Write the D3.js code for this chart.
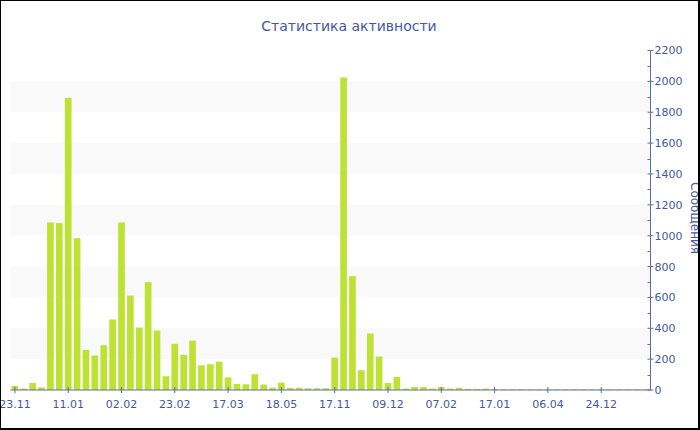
<!DOCTYPE html>
<html>
<head>
<meta charset="utf-8">
<script src="https://cdnjs.cloudflare.com/ajax/libs/d3/7.8.5/d3.min.js"></script>
<style>
    body { margin: 0; background: #fff; }
    svg { display: block; font-family: "DejaVu Sans", Verdana, sans-serif; }
</style>
</head>
<body>
<svg id="chart" width="700" height="430"></svg>
<script>

var title = "Статистика активности";
var yTitle = "Сообщения";

/**
 * one label every 6 bars (the source only prints those)
 */
var tickLabels = ["23.11", "11.01", "02.02", "23.02", "17.03", "18.05",
    "17.11", "09.12", "07.02", "17.01", "06.04", "24.12"];

var messages = [26, 9, 45, 17, 1086, 1082, 1893, 984, 260, 223, 290, 457,
    1086, 612, 405, 699, 385, 89, 299, 227, 320, 160, 167, 184,
    82, 39, 37, 102, 35, 15, 48, 13, 15, 11, 11, 11,
    210, 2025, 738, 128, 366, 217, 45, 85, 9, 20, 20, 9,
    20, 9, 15, 7, 7, 9, 7, 5, 5, 5, 5, 5,
    5, 5, 5, 5, 5, 5, 5, 5, 5, 5, 5, 5];

var yTicks = [0, 200, 400, 600, 800, 1000, 1200, 1400, 1600, 1800, 2000, 2200];

var WIDTH = 700, HEIGHT = 430;
var MARGINS = { left: 10.5, right: 50, top: 50.5, bottom: 40 };
var TEXT = "#4657a2", AXIS = "#5c6bab", BAR = "#bde233";

var vis = d3.select("#chart");

var xRange = d3.scaleBand()
    .domain(d3.range(messages.length))
    .range([MARGINS.left, WIDTH - MARGINS.right])
    .paddingInner(0.25)
    .paddingOuter(0.12);

var yRange = d3.scaleLinear()
    .domain([0, 2200])
    .range([HEIGHT - MARGINS.bottom, MARGINS.top]);

var x0 = MARGINS.left, x1 = WIDTH - MARGINS.right + 0.5;

/**
 * alternating grey bands behind the bars
 */
vis.append("g").selectAll("rect")
    .data(yTicks.filter(function (d, i) { return i % 2 == 1 && d < 2200; }))
    .enter().append("rect")
    .attr("x", x0)
    .attr("width", x1 - x0)
    .attr("y", function (d) { return yRange(d + 200); })
    .attr("height", function (d) { return yRange(d) - yRange(d + 200); })
    .attr("fill", "#f9f9f9");

vis.append("g").selectAll("rect")
    .data(messages)
    .enter().append("rect")
    .attr("x", function (d, i) { return xRange(i); })
    .attr("width", xRange.bandwidth())
    .attr("y", function (d) { return yRange(d); })
    .attr("height", function (d) { return yRange(0) - yRange(d); })
    .attr("fill", BAR);

/**
 * x axis: line plus ticks crossing it, label on every 6th bar
 */
var xAxis = vis.append("g");
var yBase = yRange(0);
xAxis.append("line")
    .attr("x1", x0).attr("x2", x1)
    .attr("y1", yBase).attr("y2", yBase)
    .attr("stroke", AXIS);

var xt = xAxis.selectAll(".xtick")
    .data(tickLabels)
    .enter().append("g")
    .attr("class", "xtick")
    .attr("transform", function (d, i) {
        return "translate(" + (xRange(i * 6) + xRange.bandwidth() / 2) + "," + yBase + ")";
    });
xt.append("line").attr("y1", -3).attr("y2", 3).attr("stroke", AXIS);
xt.append("text")
    .attr("y", 18)
    .attr("text-anchor", "middle")
    .attr("fill", TEXT)
    .style("font-size", "11px")
    .text(function (d) { return d; });

/**
 * y axis on the right
 */
var ax = WIDTH - MARGINS.right + 0.5;
var yAxis = vis.append("g");
yAxis.append("line")
    .attr("x1", ax).attr("x2", ax)
    .attr("y1", yRange(2200)).attr("y2", yBase)
    .attr("stroke", AXIS);

yAxis.selectAll(".minor")
    .data(yTicks.slice(0, -1))
    .enter().append("line")
    .attr("x1", ax - 3).attr("x2", ax)
    .attr("y1", function (d) { return Math.round(yRange(d + 100)) + 0.5; })
    .attr("y2", function (d) { return Math.round(yRange(d + 100)) + 0.5; })
    .attr("stroke", AXIS);

var yt = yAxis.selectAll(".ytick")
    .data(yTicks)
    .enter().append("g")
    .attr("transform", function (d) { return "translate(" + ax + "," + yRange(d) + ")"; });
yt.append("line").attr("x1", -3).attr("x2", 3).attr("stroke", AXIS);
yt.append("text")
    .attr("x", 4)
    .attr("dy", "0.36em")
    .attr("fill", TEXT)
    .style("font-size", "11px")
    .text(function (d) { return d; });

// axis title, partly clipped by the frame as in the source
vis.append("text")
    .attr("transform", "translate(691,218) rotate(90)")
    .attr("text-anchor", "middle")
    .attr("fill", TEXT)
    .style("font-size", "12px")
    .text(yTitle);

vis.append("text")
    .attr("x", 349)
    .attr("y", 31)
    .attr("text-anchor", "middle")
    .attr("fill", TEXT)
    .style("font-size", "14px")
    .text(title);

// frame
vis.append("rect")
    .attr("x", 0).attr("y", 0)
    .attr("width", 699).attr("height", 429)
    .attr("fill", "none")
    .attr("stroke", "#000")
    .attr("stroke-width", 2);

</script>
</body>
</html>
